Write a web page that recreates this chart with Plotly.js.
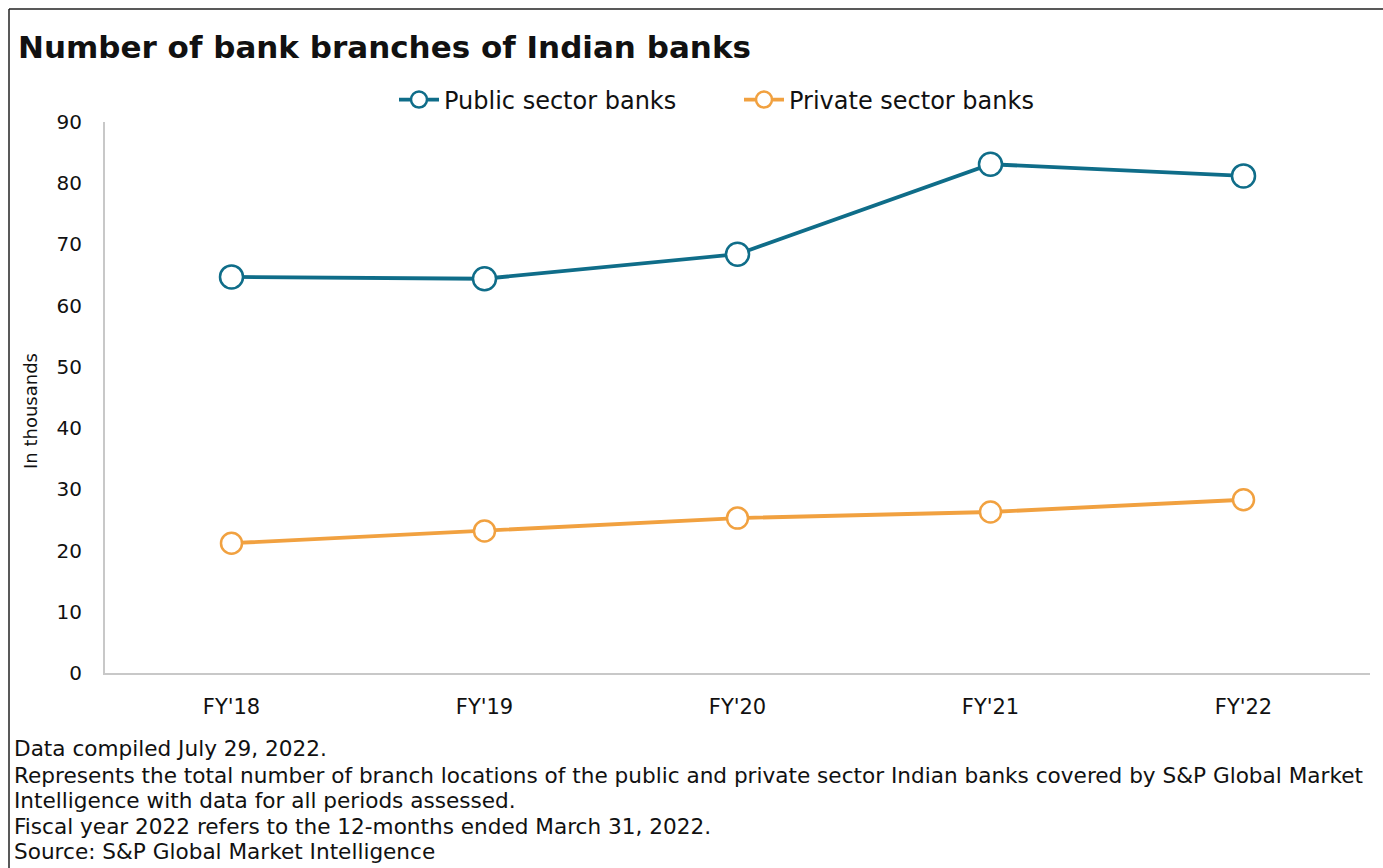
<!DOCTYPE html>
<html>
<head>
<meta charset="utf-8">
<script src="https://cdn.plot.ly/plotly-3.0.1.min.js"></script>
<style>html,body{margin:0;padding:0;background:#fff;}#chart{width:1383px;height:868px;}</style>
</head>
<body>
<div id="chart"></div>
<script>
const categories = ["FY'18", "FY'19", "FY'20", "FY'21", "FY'22"];
const publicSector = [64.7, 64.4, 68.4, 83.1, 81.2];
const privateSector = [21.2, 23.2, 25.3, 26.3, 28.3];
const yTicks = [0, 10, 20, 30, 40, 50, 60, 70, 80, 90];
const titleText = "Number of bank branches of Indian banks";
const yTitle = "In thousands";
const footnotes = [
  "Data compiled July 29, 2022.",
  "Represents the total number of branch locations of the public and private sector Indian banks covered by S&P Global Market",
  "Intelligence with data for all periods assessed.",
  "Fiscal year 2022 refers to the 12-months ended March 31, 2022.",
  "Source: S&P Global Market Intelligence"
];

const W = 1383, H = 868;
const M = {l: 105, r: 13, t: 122, b: 195};
const pw = W - M.l - M.r, ph = H - M.t - M.b;
const px = x => (x - M.l) / pw;
const py = y => (H - M.b - y) / ph;

const teal = '#0F6D89', orange = '#F1A140';
const font = "DejaVu Sans, sans-serif";

const traces = [
  {x: categories, y: publicSector, name: 'Public sector banks', type: 'scatter', mode: 'lines+markers',
   line: {color: teal, width: 3.8}, marker: {symbol: 'circle', size: 23, color: '#fff', line: {color: teal, width: 2.5}}},
  {x: categories, y: privateSector, name: 'Private sector banks', type: 'scatter', mode: 'lines+markers',
   line: {color: orange, width: 3.8}, marker: {symbol: 'circle', size: 21, color: '#fff', line: {color: orange, width: 2.5}}}
];

const annotations = [
  {text: '<b>' + titleText + '</b>', xref: 'paper', yref: 'paper', x: px(16), y: py(47), xanchor: 'left', yanchor: 'middle',
   showarrow: false, font: {family: font, size: 31, color: '#111'}},
  {text: yTitle, xref: 'paper', yref: 'paper', x: px(30), y: py(411), xanchor: 'center', yanchor: 'middle', textangle: -90,
   showarrow: false, font: {family: font, size: 18, color: '#111'}}
];
const footY = [748, 775, 800, 826, 851];
footnotes.forEach((t, i) => annotations.push({text: t, xref: 'paper', yref: 'paper', x: px(12), y: py(footY[i]),
  xanchor: 'left', yanchor: 'middle', showarrow: false, font: {family: font, size: 21.6, color: '#111'}}));

const layout = {
  width: W, height: H, margin: M, paper_bgcolor: '#fff', plot_bgcolor: '#fff',
  font: {family: font, color: '#111'},
  showlegend: true,
  legend: {orientation: 'h', x: px(739), xanchor: 'center', xref: 'paper', y: py(100), yanchor: 'middle',
           font: {family: font, size: 24, color: '#111'}, itemwidth: 40, traceorder: 'normal',
           entrywidth: 290, entrywidthmode: 'pixels'},
  xaxis: {type: 'category', range: [-0.5, 4.5], showgrid: false, showline: true, linecolor: '#c8c8c8', linewidth: 2, ticks: '',
          tickfont: {family: font, size: 21, color: '#111'}, ticklabelstandoff: 14, zeroline: false, fixedrange: true},
  yaxis: {range: [0, 90], tickvals: yTicks, showgrid: false, showline: true, linecolor: '#c8c8c8', linewidth: 2, ticks: '',
          tickfont: {family: font, size: 20, color: '#111'}, ticklabelstandoff: 17, zeroline: false, fixedrange: true},
  annotations: annotations,
  shapes: [
    {type: 'line', xref: 'paper', yref: 'paper', x0: px(9), x1: px(9), y0: py(9), y1: py(H + 5), line: {color: '#222', width: 1.5}},
    {type: 'line', xref: 'paper', yref: 'paper', x0: px(9), x1: px(W + 5), y0: py(9), y1: py(9), line: {color: '#222', width: 1.5}}
  ]
};
Plotly.newPlot('chart', traces, layout, {displayModeBar: false, staticPlot: true});
</script>
</body>
</html>
